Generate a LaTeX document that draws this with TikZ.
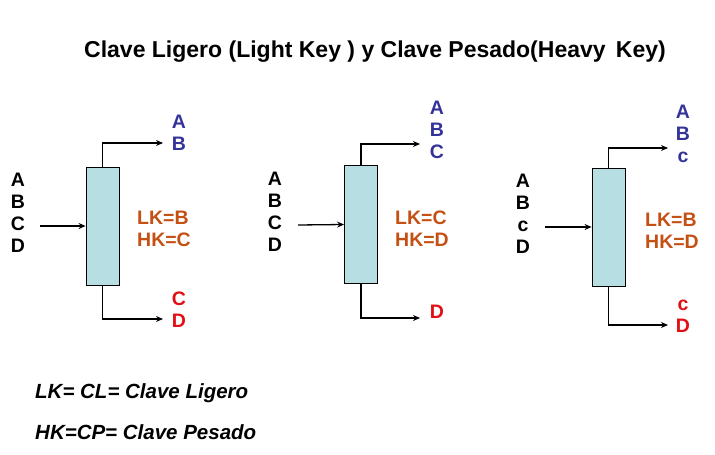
\documentclass[tikz,border=0pt]{standalone}
\usepackage{fontspec}
\setmainfont{Liberation Sans}
\usepackage{xcolor}
\usetikzlibrary{positioning,arrows.meta}

\definecolor{colfill}{RGB}{183,222,226}
\definecolor{colblue}{RGB}{51,51,153}
\definecolor{colred}{RGB}{225,15,20}
\definecolor{colkey}{RGB}{196,80,20}

\begin{document}
\begin{tikzpicture}[
    x=1pt, y=-1pt,
    column/.style  ={rectangle, draw=black, fill=colfill, line width=0.8pt, minimum width=33pt, minimum height=118pt, inner sep=0pt},
    flow/.style    ={line width=1.3pt, -{Stealth[length=7pt, width=6pt]}},
    comp/.style    ={font=\fontsize{19.5}{22}\selectfont\bfseries, align=center, inner sep=0pt},
    keylab/.style  ={font=\fontsize{19.5}{22}\selectfont\bfseries, align=left, text=colkey, inner sep=0pt},
    title/.style   ={font=\fontsize{23}{26}\selectfont\bfseries},
    note/.style    ={font=\fontsize{20.5}{24}\selectfont\bfseries\itshape, anchor=west, inner sep=0pt}
  ]
    % page frame (pixel coordinates of the 715x455 sheet)
    \useasboundingbox (0,0) rectangle (715,455);

    \node[title] (title) at (375,52) {Clave Ligero (Light Key ) y Clave Pesado(Heavy\ \,Key)};

    % --- Column 1: LK=B, HK=C ---
    \node[column] (box1) at (102.5,226) {};
    \coordinate (in1)  at (40,226);
    \coordinate (top1) at (163,143);
    \coordinate (bot1) at (163,319);
    \draw[flow] (in1) -- (box1.west);
    \draw[flow] (box1.north) |- (top1);
    \draw[flow] (box1.south) |- (bot1);
    \node[comp] (feed1) at (18,213) {A\\B\\C\\D};
    \node[comp, text=colblue] (dist1) at (179,133) {A\\B};
    \node[comp, text=colred] (btm1) at (179,310) {C\\D};
    \node[keylab] (key1) at (164,229) {LK=B\\HK=C};

    % --- Column 2: LK=C, HK=D ---
    \node[column] (box2) at (361,224.5) {};
    \coordinate (in2)  at (298,225);
    \coordinate (top2) at (420,144);
    \coordinate (bot2) at (420,318);
    \draw[flow] (in2) -- (box2.west);
    \draw[flow] (box2.north) |- (top2);
    \draw[flow] (box2.south) |- (bot2);
    \node[comp] (feed2) at (275,212) {A\\B\\C\\D};
    \node[comp, text=colblue] (dist2) at (437,129.5) {A\\B\\C};
    \node[comp, text=colred] (btm2) at (437,312) {D};
    \node[keylab] (key2) at (422,228.5) {LK=C\\HK=D};

    % --- Column 3: LK=B, HK=D ---
    \node[column] (box3) at (608.5,227) {};
    \coordinate (in3)  at (545,227);
    \coordinate (top3) at (668,148);
    \coordinate (bot3) at (668,325);
    \draw[flow] (in3) -- (box3.west);
    \draw[flow] (box3.north) |- (top3);
    \draw[flow] (box3.south) |- (bot3);
    \node[comp] (feed3) at (523,214) {A\\B\\c\\D};
    \node[comp, text=colblue] (dist3) at (683,133.5) {A\\B\\c};
    \node[comp, text=colred] (btm3) at (683,316) {c\\D};
    \node[keylab] (key3) at (672,231) {LK=B\\HK=D};

    % legend
    \node[note] (legLK) at (35,393) {LK= CL= Clave Ligero};
    \node[note] (legHK) at (35,432) {HK=CP= Clave Pesado};
  \end{tikzpicture}
\end{document}
